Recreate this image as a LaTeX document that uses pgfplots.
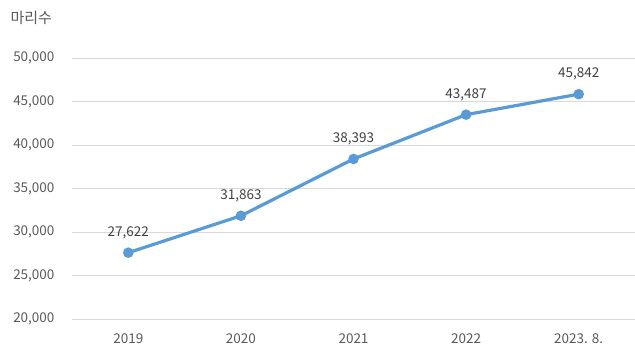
\documentclass[border=0pt]{standalone}
\usepackage{pgfplots}
\pgfplotsset{compat=1.18}
\usepackage{fontspec}
\setmainfont{Noto Sans CJK KR}
\definecolor{lineblue}{HTML}{5B9BD5}
\definecolor{gridgray}{HTML}{D9D9D9}
\definecolor{ticktext}{HTML}{595959}
\definecolor{labeltext}{HTML}{404040}
\begin{document}
\begin{tikzpicture}[x=1pt,y=1pt]
\path[use as bounding box] (0,0) rectangle (635,364);
\begin{axis}[
  at={(72pt,45pt)}, anchor=south west,
  scale only axis, width=563pt, height=261pt,
  xmin=-0.5, xmax=4.5, ymin=20000, ymax=50000,
  xtick={0,1,2,3,4},
  xticklabels={2019,2020,2021,2022,{2023. 8.}},
  ytick={20000,25000,30000,35000,40000,45000,50000},
  ymajorgrids, grid style={gridgray, line width=0.9pt},
  axis line style={draw=none},
  major tick length=0pt,
  tick label style={font=\fontsize{13.5}{15}\selectfont, text=ticktext},
  yticklabel style={/pgf/number format/1000 sep={,}, /pgf/number format/assume math mode=true, xshift=-14pt},
  xticklabel style={yshift=-11pt},
  scaled y ticks=false,
  clip=false,
  nodes near coords,
  every node near coord/.append style={font=\fontsize{13.5}{15}\selectfont, text=labeltext, /pgf/number format/1000 sep={,}, /pgf/number format/assume math mode=true, yshift=9pt},
]
\addplot[lineblue, line width=3.2pt, mark=*, mark size=3.6pt, mark options={fill=lineblue, draw=lineblue}]
  coordinates {(0,27622) (1,31863) (2,38393) (3,43487) (4,45842)};
\end{axis}
\node[anchor=west, font=\fontsize{15}{17}\selectfont, text=ticktext] at (7,346) {마리수};
\end{tikzpicture}
\end{document}
